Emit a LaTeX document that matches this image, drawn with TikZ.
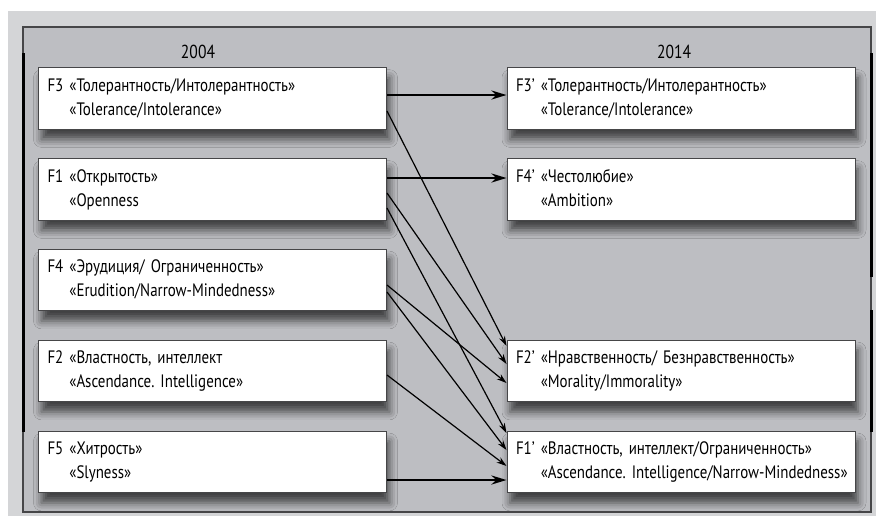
\documentclass[tikz,border=0pt]{standalone}
\usepackage{fontspec}
\setmainfont{PT Sans}[FakeStretch=0.83]
\usetikzlibrary{arrows.meta, shadows.blur}
\definecolor{pagegray}{RGB}{212,213,215}
\definecolor{framegray}{RGB}{189,190,194}
\definecolor{edgegray}{RGB}{70,70,72}
\newcommand{\fct}[3]{\begin{tabular}{@{}l@{~}l@{}}#1&#2\\&#3\end{tabular}}
\tikzset{
  factor/.style={draw=edgegray, fill=white, line width=0.5pt, minimum height=26.5pt,
    text width=165pt, inner xsep=4.5pt, align=left, font=\fontsize{9}{10.8}\selectfont,
    blur shadow={shadow xshift=1.5pt, shadow yshift=-5pt, shadow blur radius=4pt, shadow opacity=65}},
  same/.style={line width=1.2pt, -{Stealth[length=7.5pt, width=4.5pt]}},
  moved/.style={line width=0.6pt, -{Stealth[length=5pt, width=3.2pt]}},
  year/.style={font=\fontsize{9.4}{10}\selectfont}
}
\renewcommand{\arraystretch}{1.12}
\frenchspacing

\begin{document}
\begin{tikzpicture}[x=0.5pt, y=-0.5pt]
			% background and frame
			\useasboundingbox (0,0) rectangle (876,516);
			\fill[pagegray] (8,11) rectangle (876,516);
			\draw[edgegray, fill=framegray, line width=0.6pt] (23,27) rectangle (871,512);
			\draw[line width=1.5pt] (23,53) -- (23,432);
			\draw[line width=1.5pt] (871,53) -- (871,277);
			\draw[line width=1.5pt] (871,310) -- (871,432);
			\node[year] (y04) at (198,52) {2004};
			\node[year] (y14) at (674,52) {2014};
			% 2004
			\node[factor] (l3) at (212.5,98.5) {\fct{F3}{«Толерантность/Интолерантность»}{«Tolerance/Intolerance»}};
			\node[factor] (l1) at (212.5,189.5) {\fct{F1}{«Открытость»}{«Openness}};
			\node[factor] (l4) at (212.5,280) {\fct{F4}{«Эрудиция/ Ограниченность»}{«Erudition/Narrow-Mindedness»}};
			\node[factor] (l2) at (212.5,371) {\fct{F2}{«Властность, интеллект}{«Ascendance. Intelligence»}};
			\node[factor] (l5) at (212.5,462) {\fct{F5}{«Хитрость»}{«Slyness»}};
			% 2014
			\node[factor] (r3) at (681,98.5) {\fct{F3’}{«Толерантность/Интолерантность»}{«Tolerance/Intolerance»}};
			\node[factor] (r4) at (681,189.5) {\fct{F4'}{«Честолюбие»}{«Ambition»}};
			\node[factor] (r2) at (681,371) {\fct{F2'}{«Нравственность/ Безнравственность»}{«Morality/Immorality»}};
			\node[factor] (r1) at (681,462) {\fct{F1'}{«Властность, интеллект/Ограниченность»}{«Ascendance. Intelligence/Narrow-Mindedness»}};
			% links
			\draw[same] ([yshift=1.75pt]l3.east) -- ([yshift=1.75pt]r3.west);
			\draw[same] ([yshift=5.75pt]l1.east) -- ([yshift=5.75pt]r4.west);
			\draw[same] ([yshift=-9pt]l5.east) -- ([yshift=-9pt]r1.west);
			\draw[moved] ([yshift=-6.25pt]l3.east) -- ([yshift=12.5pt]r2.west);
			\draw[moved] ([yshift=-1.75pt]l1.east) -- ([yshift=3.5pt]r2.west);
			\draw[moved] ([yshift=-9.25pt]l1.east) -- ([yshift=14.5pt]r1.west);
			\draw[moved] ([yshift=-2.5pt]l4.east) -- ([yshift=-6pt]r2.west);
			\draw[moved] ([yshift=-6pt]l4.east) -- ([yshift=6pt]r1.west);
			\draw[moved] ([yshift=-2pt]l2.east) -- ([yshift=-2pt]r1.west);
		\end{tikzpicture}
\end{document}
